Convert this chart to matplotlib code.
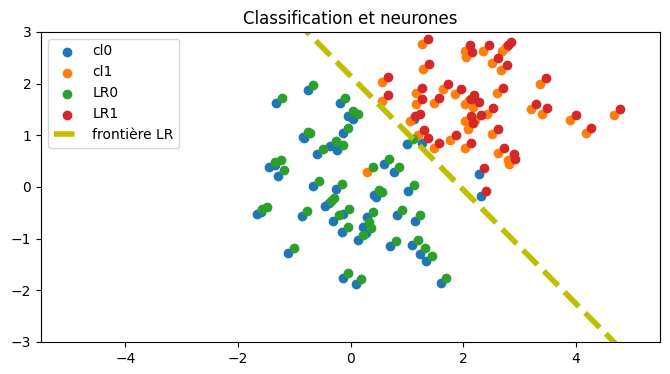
import numpy as np
import matplotlib
matplotlib.use("Agg")
import matplotlib.pyplot as plt

# class 0 points and the LR prediction for each
cl0_x = [-0.76, -1.32, -0.19, -0.05, 0.04, -0.85, -0.82, -0.14, -0.36, -0.24,
         -0.59, -1.44, -1.34, -1.29, 0.59, 0.77, -0.66, -0.26, 0.41, 0.46,
         -1.67, -1.59, -0.87, -0.45, -0.39, -0.31, -0.13, -0.15, 0.30, 0.23,
         0.27, 0.13, 0.70, -1.11, -0.14, 0.09, 1.03, 2.31, 0.82, 1.14,
         1.10, 1.23, 1.34, 1.60, 1.01, 1.27, 2.28, 1.13]
cl0_y = [1.87, 1.63, 1.63, 1.37, 1.32, 0.97, 0.94, 1.05, 0.79, 0.71,
         0.63, 0.39, 0.43, 0.22, 0.44, 0.29, 0.02, -0.04, -0.15, -0.20,
         -0.53, -0.49, -0.57, -0.37, -0.31, -0.65, -0.52, -0.88, -0.59, -0.78,
         -0.90, -1.03, -1.14, -1.28, -1.76, -1.88, -0.07, -0.18, -0.55, -0.65,
         -1.12, -1.29, -1.43, -1.86, 0.83, 0.85, 0.26, 1.32]
cl0_lr = [0, 0, 0, 0, 0, 0, 0, 0, 0, 0,
          0, 0, 0, 0, 0, 0, 0, 0, 0, 0,
          0, 0, 0, 0, 0, 0, 0, 0, 0, 0,
          0, 0, 0, 0, 0, 0, 0, 1, 0, 0,
          0, 0, 0, 0, 0, 1, 1, 1]

# class 1 points and the LR prediction for each
cl1_x = [0.56, 0.56, 1.27, 1.29, 1.17, 1.17, 1.05, 1.48, 1.64, 1.86,
         2.03, 2.06, 2.36, 2.70, 2.76, 2.52, 2.68, 2.61, 2.04, 2.10,
         2.18, 2.43, 2.04, 2.22, 2.08, 2.52, 1.77, 1.48, 2.04, 2.62,
         2.80, 2.82, 1.20, 0.30, 3.37, 3.20, 3.40, 3.90, 4.18, 4.69]
cl1_y = [2.03, 1.67, 2.77, 2.28, 1.82, 1.60, 1.28, 1.63, 1.89, 1.80,
         2.64, 2.52, 2.64, 2.64, 2.70, 2.39, 2.26, 1.81, 1.60, 1.68,
         1.54, 1.42, 1.28, 1.30, 1.13, 1.02, 0.90, 0.76, 0.76, 0.66,
         0.53, 0.45, 1.00, 0.29, 2.00, 1.50, 1.42, 1.29, 1.05, 1.40]
cl1_lr = [1, 1, 1, 1, 1, 1, 1, 1, 1, 1,
          1, 1, 1, 1, 1, 1, 1, 1, 1, 1,
          1, 1, 1, 1, 1, 1, 1, 1, 1, 1,
          1, 1, 1, 0, 1, 1, 1, 1, 1, 1]

# LR decision boundary y = b0 + b1*x
b0 = 2.15
b1 = -1.10
front_x = [-5.0, 5.0]

shift = 0.1  # LR markers drawn slightly offset

x_all = np.array(cl0_x + cl1_x)
y_all = np.array(cl0_y + cl1_y)
lr_all = np.array(cl0_lr + cl1_lr)

fig = plt.figure(figsize=(6.7, 3.74), dpi=100)
ax = fig.add_axes([0.0612, 0.0856, 0.9239, 0.829])

ax.scatter(cl0_x, cl0_y, label="cl0")
ax.scatter(cl1_x, cl1_y, label="cl1")
ax.scatter(x_all[lr_all == 0] + shift, y_all[lr_all == 0] + shift, label="LR0")
ax.scatter(x_all[lr_all == 1] + shift, y_all[lr_all == 1] + shift, label="LR1")

fx = np.array(front_x)
ax.plot(fx, b0 + b1 * fx, "y--", lw=4, label="frontière LR")

ax.set_xlim(-5.5, 5.5)
ax.set_ylim(-3, 3)
ax.set_title("Classification et neurones")
ax.legend(loc="upper left")

fig.savefig("out.png")
